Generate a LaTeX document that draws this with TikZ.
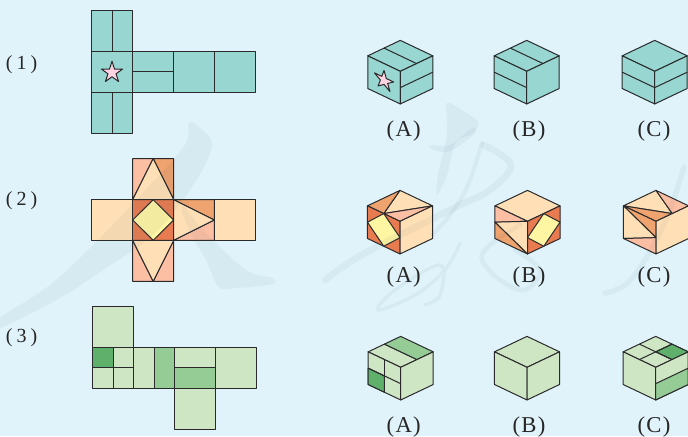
\documentclass[tikz,border=0pt]{standalone}
\usepackage{fontspec}
\setmainfont{Liberation Serif}
\usetikzlibrary{calc}
\definecolor{paper}{HTML}{E0F3FB}
\definecolor{wmark}{HTML}{3A5A70}
\definecolor{tealface}{HTML}{97D6D1}
\definecolor{starpink}{HTML}{FFD3E2}
\definecolor{sand}{HTML}{FFE0B6}
\definecolor{peach}{HTML}{FDBFA4}
\definecolor{amber}{HTML}{EFA36E}
\definecolor{rust}{HTML}{E87C50}
\definecolor{lemon}{HTML}{FFF6A4}
\definecolor{leaf}{HTML}{CFE6C4}
\definecolor{midleaf}{HTML}{95CB95}
\definecolor{darkleaf}{HTML}{5FB06B}
\definecolor{inkline}{HTML}{2A2A2C}
\newcommand{\facestar}[3]{% centre x, centre y, radius
  \filldraw[edge,fill=starpink] ($(#1,#2)+(270:#3)$)
    -- ($(#1,#2)+(306:0.38*#3)$) -- ($(#1,#2)+(342:#3)$)
    -- ($(#1,#2)+(18:0.38*#3)$) -- ($(#1,#2)+(54:#3)$)
    -- ($(#1,#2)+(90:0.38*#3)$) -- ($(#1,#2)+(126:#3)$)
    -- ($(#1,#2)+(162:0.38*#3)$) -- ($(#1,#2)+(198:#3)$)
    -- ($(#1,#2)+(234:0.38*#3)$) -- cycle;
}
\newcommand{\quadface}[5]{% colour, x1, y1, x2, y2
  \filldraw[edge,fill=#1] (#2,#3) -- (#4,#3) -- (#4,#5) -- (#2,#5) -- cycle;
}
\tikzset{
  edge/.style={draw=inkline,line width=0.75pt,line join=round},
  topface/.style={x={(24.4pt,11.6pt)},y={(-24.4pt,11.6pt)}},
  leftface/.style={x={(-24.4pt,11.6pt)},y={(0pt,-24.5pt)}},
  rightface/.style={x={(24.4pt,11.6pt)},y={(0pt,-24.5pt)}},
  choice/.style={font=\fontsize{17}{17}\selectfont,text=black!85,inner sep=0pt},
  rowlabel/.style={font=\fontsize{15}{15}\selectfont,text=black!85,inner sep=0pt},
  wstroke/.style={fill=wmark,fill opacity=0.06,draw=none},
  wline/.style={draw=wmark,draw opacity=0.06,line cap=round,line join=round}
}
\begin{document}
\begin{tikzpicture}[x=0.75pt,y=-0.75pt]
\fill[paper] (0,0) rectangle (688,436);
\useasboundingbox (0,0) rectangle (688,436);
% row labels
\node[rowlabel] (lab1) at (21.5,65) {(\kern3pt1\kern3pt)};
\node[rowlabel] (lab2) at (21.5,201) {(\kern3pt2\kern3pt)};
\node[rowlabel] (lab3) at (21.5,338) {(\kern3pt3\kern3pt)};
% net 1
\filldraw[edge,fill=tealface] (91.5,10.3) rectangle (132.5,51.3);
\filldraw[edge,fill=tealface] (91.5,51.3) rectangle (132.5,92.3);
\filldraw[edge,fill=tealface] (91.5,92.3) rectangle (132.5,133.3);
\filldraw[edge,fill=tealface] (132.5,51.3) rectangle (173.5,92.3);
\filldraw[edge,fill=tealface] (173.5,51.3) rectangle (214.5,92.3);
\filldraw[edge,fill=tealface] (214.5,51.3) rectangle (255.5,92.3);
\draw[edge] (112,10.3) -- (112,51.3);
\draw[edge] (112,92.3) -- (112,133.3);
\draw[edge] (132.5,71.5) -- (173.5,71.5);
\facestar{112}{72.5}{11.2}
% net 2
\filldraw[edge,fill=sand] (91.3,199.7) rectangle (132.7,240.3);
\filldraw[edge,fill=sand] (214.3,199.7) rectangle (255.3,240.3);
\filldraw[edge,fill=rust] (132.7,199.7) rectangle (173.7,240.3);
\filldraw[edge,fill=lemon] (153.2,199.7) -- (173.7,220) -- (153.2,240.3) -- (132.7,220) -- cycle;
\filldraw[edge,fill=peach] (132.7,158.7) -- (153.2,158.7) -- (132.7,199.7) -- cycle;
\filldraw[edge,fill=amber] (153.2,158.7) -- (173.7,158.7) -- (173.7,199.7) -- cycle;
\filldraw[edge,fill=sand] (153.2,158.7) -- (173.7,199.7) -- (132.7,199.7) -- cycle;
\filldraw[edge,fill=peach] (132.7,240.3) -- (153.2,281.3) -- (132.7,281.3) -- cycle;
\filldraw[edge,fill=peach] (173.7,240.3) -- (173.7,281.3) -- (153.2,281.3) -- cycle;
\filldraw[edge,fill=sand] (132.7,240.3) -- (173.7,240.3) -- (153.2,281.3) -- cycle;
\filldraw[edge,fill=amber] (173.7,199.7) -- (214.3,199.7) -- (214.3,220) -- cycle;
\filldraw[edge,fill=peach] (173.7,240.3) -- (214.3,220) -- (214.3,240.3) -- cycle;
\filldraw[edge,fill=sand] (173.7,199.7) -- (214.3,220) -- (173.7,240.3) -- cycle;
% net 3
\filldraw[edge,fill=leaf] (92.3,306.3) rectangle (133.3,347);
\filldraw[edge,fill=leaf] (92.3,347) rectangle (133.3,388);
\filldraw[edge,fill=darkleaf] (92.3,347) rectangle (113.3,367.3);
\draw[edge] (113.3,367.3) -- (113.3,388);
\draw[edge] (92.3,367.3) -- (133.3,367.3);
\filldraw[edge,fill=leaf] (133.3,347) rectangle (154.3,388);
\filldraw[edge,fill=midleaf] (154.3,347) rectangle (174.3,388);
\filldraw[edge,fill=leaf] (174.3,347) rectangle (215.3,367.3);
\filldraw[edge,fill=midleaf] (174.3,367.3) rectangle (215.3,388);
\filldraw[edge,fill=leaf] (215.3,347) rectangle (256,388);
\filldraw[edge,fill=leaf] (174.3,388) rectangle (215.3,429);
% row 1 cubes
\begin{scope}[shift={(400.3,71.3)}]
  \begin{scope}[topface]
    \quadface{tealface}{0}{0}{1}{1}
    \draw[edge] (0.5,0) -- (0.5,1);
  \end{scope}
  \begin{scope}[leftface]
    \quadface{tealface}{0}{0}{1}{1}
    \facestar{0.5}{0.52}{0.31}
  \end{scope}
  \begin{scope}[rightface]
    \quadface{tealface}{0}{0}{1}{1}
    \draw[edge] (0,0.5) -- (1,0.5);
  \end{scope}
\end{scope}
\begin{scope}[shift={(526.7,71.3)}]
  \begin{scope}[topface]
    \quadface{tealface}{0}{0}{1}{1}
    \draw[edge] (0.5,0) -- (0.5,1);
  \end{scope}
  \begin{scope}[leftface]
    \quadface{tealface}{0}{0}{1}{1}
    \draw[edge] (0,0.5) -- (1,0.5);
  \end{scope}
  \begin{scope}[rightface]
    \quadface{tealface}{0}{0}{1}{1}
  \end{scope}
\end{scope}
\begin{scope}[shift={(654.7,71.3)}]
  \begin{scope}[topface]
    \quadface{tealface}{0}{0}{1}{1}
  \end{scope}
  \begin{scope}[leftface]
    \quadface{tealface}{0}{0}{1}{1}
    \draw[edge] (0,0.5) -- (1,0.5);
  \end{scope}
  \begin{scope}[rightface]
    \quadface{tealface}{0}{0}{1}{1}
    \draw[edge] (0,0.5) -- (1,0.5);
  \end{scope}
\end{scope}
% row 2 cubes
\begin{scope}[shift={(400,221.3)}]
  \begin{scope}[topface]
    \filldraw[edge,fill=sand] (0,0.5) -- (1,1) -- (1,0) -- cycle;
    \filldraw[edge,fill=amber] (0,0.5) -- (0,1) -- (1,1) -- cycle;
    \filldraw[edge,fill=peach] (0,0.5) -- (1,0) -- (0,0) -- cycle;
  \end{scope}
  \begin{scope}[leftface]
    \quadface{rust}{0}{0}{1}{1}
    \filldraw[edge,fill=lemon] (0.5,0) -- (1,0.5) -- (0.5,1) -- (0,0.5) -- cycle;
  \end{scope}
  \begin{scope}[rightface]
    \quadface{sand}{0}{0}{1}{1}
  \end{scope}
\end{scope}
\begin{scope}[shift={(527.5,221.3)}]
  \begin{scope}[topface]
    \quadface{sand}{0}{0}{1}{1}
  \end{scope}
  \begin{scope}[leftface]
    \filldraw[edge,fill=peach] (0,0) -- (1,0) -- (1,0.5) -- cycle;
    \filldraw[edge,fill=sand] (0,0) -- (1,0.5) -- (0,1) -- cycle;
    \filldraw[edge,fill=amber] (1,0.5) -- (1,1) -- (0,1) -- cycle;
  \end{scope}
  \begin{scope}[rightface]
    \quadface{rust}{0}{0}{1}{1}
    \filldraw[edge,fill=lemon] (0.5,0) -- (1,0.5) -- (0.5,1) -- (0,0.5) -- cycle;
  \end{scope}
\end{scope}
\begin{scope}[shift={(656,221.3)}]
  \begin{scope}[topface]
    \filldraw[edge,fill=sand] (0.5,0) -- (0,1) -- (1,1) -- cycle;
    \filldraw[edge,fill=peach] (0.5,0) -- (1,1) -- (1,0) -- cycle;
    \filldraw[edge,fill=amber] (0.5,0) -- (0,1) -- (0,0) -- cycle;
  \end{scope}
  \begin{scope}[leftface]
    \filldraw[edge,fill=amber] (0,0) -- (1,0) -- (0,0.5) -- cycle;
    \filldraw[edge,fill=sand] (1,0) -- (1,1) -- (0,0.5) -- cycle;
    \filldraw[edge,fill=peach] (1,1) -- (0,1) -- (0,0.5) -- cycle;
  \end{scope}
  \begin{scope}[rightface]
    \quadface{sand}{0}{0}{1}{1}
  \end{scope}
\end{scope}
% row 3 cubes
\begin{scope}[shift={(400.7,367.3)}]
  \begin{scope}[topface]
    \quadface{leaf}{0}{0}{0.5}{1}
    \quadface{midleaf}{0.5}{0}{1}{1}
  \end{scope}
  \begin{scope}[leftface]
    \quadface{leaf}{0}{0}{1}{1}
    \quadface{darkleaf}{0.5}{0.5}{1}{1}
    \draw[edge] (0,0.5) -- (1,0.5);
    \draw[edge] (0.5,0) -- (0.5,1);
  \end{scope}
  \begin{scope}[rightface]
    \quadface{leaf}{0}{0}{1}{1}
  \end{scope}
\end{scope}
\begin{scope}[shift={(527,367.3)}]
  \begin{scope}[topface]
    \quadface{leaf}{0}{0}{1}{1}
  \end{scope}
  \begin{scope}[leftface]
    \quadface{leaf}{0}{0}{1}{1}
  \end{scope}
  \begin{scope}[rightface]
    \quadface{leaf}{0}{0}{1}{1}
  \end{scope}
\end{scope}
\begin{scope}[shift={(655.7,367.3)}]
  \begin{scope}[topface]
    \quadface{leaf}{0}{0}{1}{1}
    \quadface{darkleaf}{0.5}{0}{1}{0.5}
    \draw[edge] (0.5,0) -- (0.5,1);
    \draw[edge] (0,0.5) -- (1,0.5);
  \end{scope}
  \begin{scope}[leftface]
    \quadface{leaf}{0}{0}{1}{1}
  \end{scope}
  \begin{scope}[rightface]
    \quadface{leaf}{0}{0}{1}{1}
    \quadface{midleaf}{0}{0.5}{1}{1}
  \end{scope}
\end{scope}
% choice labels
\foreach \px/\tag/\nm in {403.7/A/a,529/B/b,654/C/c}{
  \node[choice] (one\nm) at (\px,131) {(\kern1pt\tag\kern1pt)};
  \node[choice] (two\nm) at (\px,277) {(\kern1pt\tag\kern1pt)};
  \node[choice] (three\nm) at (\px,427) {(\kern1pt\tag\kern1pt)};
}
% watermark strokes
\fill[wstroke] plot[smooth cycle,tension=0.6] coordinates {(189,123) (200,128) (212,147) (190,190) (153,235) (100,272) (60,298) (0,328) (0,318) (50,285) (100,238) (150,185) (185,145)};
\fill[wstroke] plot[smooth cycle,tension=0.6] coordinates {(182,205) (206,233) (246,270) (272,278) (272,284) (237,288) (219,287) (206,260) (189,230)};
\fill[wstroke] plot[smooth cycle,tension=0.6] coordinates {(447,103) (465,112) (478,122) (472,134) (456,142) (447,175) (437,195) (438,175) (446,140) (447,120)};
\fill[wstroke] plot[smooth cycle,tension=0.6] coordinates {(430,145) (450,145) (472,128) (474,134) (450,151) (434,150)};
\draw[wline,line width=5pt] plot[smooth,tension=0.6] coordinates {(484,145) (511,165) (490,190) (460,205) (420,225) (380,245) (350,262) (325,280)};
\draw[wline,line width=3pt] plot[smooth,tension=0.6] coordinates {(482,143) (468,185) (450,215) (432,235)};
\draw[wline,line width=2.5pt] plot[smooth,tension=0.6] coordinates {(460,243) (445,270) (415,295) (378,310) (395,290) (440,265) (440,295) (425,305)};
\draw[wline,line width=3.5pt] plot[smooth,tension=0.6] coordinates {(520,225) (490,245) (482,260) (500,280) (525,290) (540,270) (515,250)};
\draw[wline,line width=4pt] plot[smooth,tension=0.6] coordinates {(684,167) (668,215) (645,260) (625,285) (605,293)};
\end{tikzpicture}
\end{document}
